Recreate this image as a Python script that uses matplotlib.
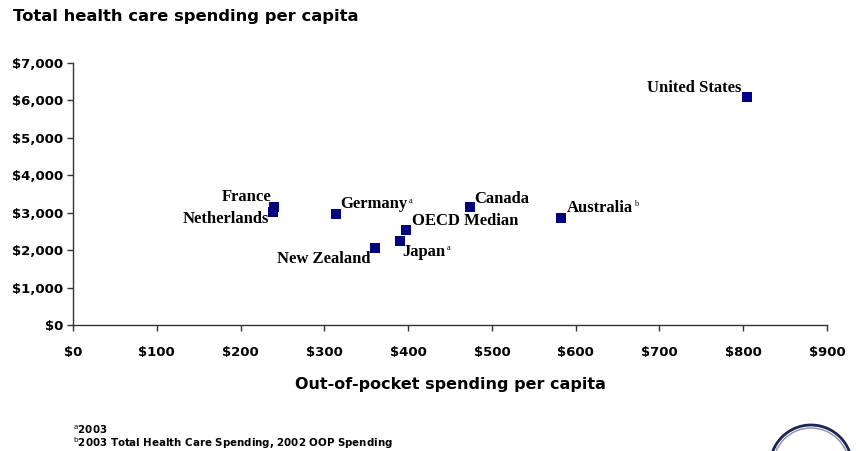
import matplotlib.pyplot as plt
from matplotlib.patches import Arc
from matplotlib.ticker import FuncFormatter, MultipleLocator

# Data
countries = ["United States", "France", "Netherlands", "Germany", "Canada",
             "OECD Median", "Japan", "New Zealand", "Australia"]
oop_spending = [804, 240, 239, 314, 474, 398, 390, 360, 583]
total_spending = [6090, 3150, 3010, 2960, 3150, 2545, 2245, 2065, 2860]
notes = ["", "", "", "a", "", "", "a", "", "b"]

# label offsets in points and alignment
label_pos = {
    "United States": (-4, 6, "right"),
    "France": (-2, 7, "right"),
    "Netherlands": (-3, -5, "right"),
    "Germany": (3, 7, "left"),
    "Canada": (3, 6, "left"),
    "OECD Median": (4, 6, "left"),
    "Japan": (2, -8, "left"),
    "New Zealand": (-3, -8, "right"),
    "Australia": (4, 7, "left"),
}

fig = plt.figure(figsize=(8.61, 4.51), dpi=100)
ax = fig.add_axes([73 / 861, 1 - 325 / 451, (827 - 73) / 861, (325 - 62.7) / 451])

ax.scatter(oop_spending, total_spending, marker="s", s=58, color="#000080",
           linewidths=0, zorder=3)

serif = dict(family="Liberation Serif", weight="bold", fontsize=12)
for name, x, y, note in zip(countries, oop_spending, total_spending, notes):
    dx, dy, ha = label_pos[name]
    t = ax.annotate(name, (x, y), xytext=(dx, dy), textcoords="offset points",
                    ha=ha, va="center", **serif)
    if note:
        # small superscript footnote marker just after the label
        ax.annotate(note, xy=(1, 1), xycoords=t, xytext=(0.8, -3),
                    textcoords="offset points", ha="left", va="center",
                    family="Liberation Serif", fontsize=6)

ax.set_xlim(0, 900)
ax.set_ylim(0, 7000)
ax.xaxis.set_major_locator(MultipleLocator(100))
ax.yaxis.set_major_locator(MultipleLocator(1000))
ax.xaxis.set_major_formatter(FuncFormatter(lambda v, p: "${:,.0f}".format(v)))
ax.yaxis.set_major_formatter(FuncFormatter(lambda v, p: "${:,.0f}".format(v)))

for side in ["top", "right"]:
    ax.spines[side].set_visible(False)
for side in ["left", "bottom"]:
    ax.spines[side].set_linewidth(1.0)
    ax.spines[side].set_color("#333333")
ax.tick_params(direction="out", length=4, width=1, color="#333333")
ax.tick_params(axis="x", pad=11)
ax.tick_params(axis="y", pad=3)
for lab in ax.get_xticklabels() + ax.get_yticklabels():
    lab.set_family("DejaVu Sans")
    lab.set_weight("heavy")
    lab.set_fontsize(9.5)

fig.text(13 / 861, 1 - 17 / 451, "Total health care spending per capita",
         family="DejaVu Sans", weight="heavy", fontsize=11.8, va="center", ha="left")
fig.text(450 / 861, 1 - 385 / 451, "Out-of-pocket spending per capita",
         family="DejaVu Sans", weight="heavy", fontsize=11.5, va="center", ha="center")

fig.text(73 / 861, 1 - 430 / 451, r"$^{\rm a}$2003", family="DejaVu Sans",
         weight="bold", fontsize=7.4, va="center")
fig.text(73 / 861, 1 - 443 / 451,
         r"$^{\rm b}$2003 Total Health Care Spending, 2002 OOP Spending",
         family="DejaVu Sans", weight="bold", fontsize=7.4, va="center")

# partial logo circle at bottom right
fig.patches.append(Arc((811, 451 - 466), 82, 82, transform=None,
                       color="#1a2550", linewidth=2))
fig.patches.append(Arc((811, 451 - 466), 76, 76, transform=None,
                       color="#8890a8", linewidth=1))

fig.savefig("out.png", dpi=100)
